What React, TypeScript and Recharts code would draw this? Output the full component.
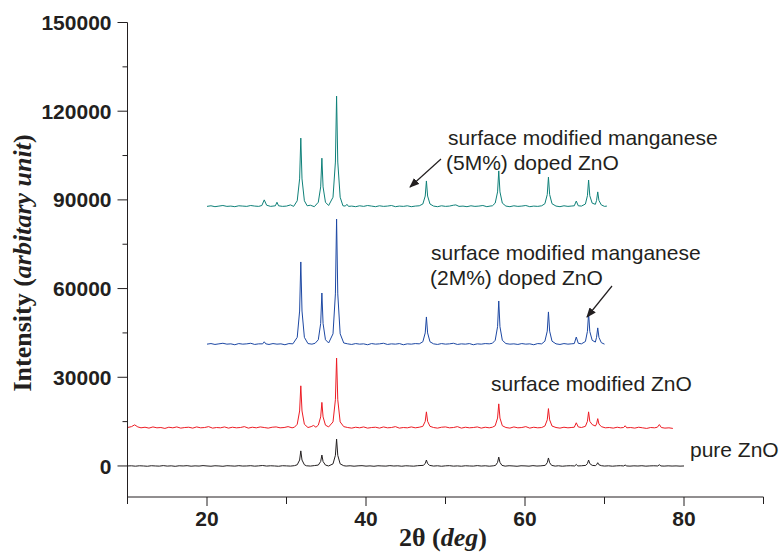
import React from "react";
import { LineChart, Line, XAxis, YAxis } from "recharts";

// 2θ (deg), intensity (a.u.)
const pureZnO: [number, number][] = [
  [10, 0], [10.5, 50], [11, -80], [11.5, 60], [12, 0], [12.5, -100], [13, 80], [13.5, 0], [14, -60], [14.5, 120],
  [15, -50], [15.5, 40], [16, -120], [16.5, 60], [17, 0], [17.5, 100], [18, -80], [18.5, 30], [19, -40], [19.5, 120],
  [20, 0], [20.5, -90], [21, 60], [21.5, 0], [22, -110], [22.5, 80], [23, 20], [23.5, -60], [24, 100], [24.5, -30],
  [25, 0], [25.5, 90], [26, -70], [26.5, 30], [27, 150], [27.5, -40], [28, 60], [28.5, 0], [29, -100], [29.5, 80],
  [30, 20], [30.5, -50], [31, 100],
  [31.35, 400], [31.65, 2000], [31.8, 5100], [31.95, 2000], [32.25, 400],
  [32.5, 60], [33, -40], [33.5, 120],
  [34.0, 300], [34.3, 1500], [34.45, 3700], [34.6, 1500], [34.9, 300],
  [35.3, 0],
  [35.85, 700], [36.15, 3600], [36.3, 9100], [36.45, 3600], [36.75, 700],
  [37.2, 80], [37.5, -30], [38, 60], [38.5, -80], [39, 40], [39.5, 100], [40, -60], [40.5, 30], [41, -100], [41.5, 70],
  [42, 0], [42.5, -50], [43, 110], [43.5, -20], [44, 50], [44.5, -90], [45, 60], [45.5, 0], [46, -70], [46.5, 90],
  [47.2, 200], [47.45, 800], [47.6, 2000], [47.75, 800], [48.0, 200],
  [48.5, -40], [49, 60], [49.5, -100], [50, 40], [50.5, 100], [51, -60], [51.5, 20], [52, -90], [52.5, 70], [53, 0],
  [53.5, -50], [54, 120], [54.5, -30], [55, 60], [55.5, -80], [56, 40],
  [56.3, 200], [56.55, 1200], [56.7, 3000], [56.85, 1200], [57.1, 200],
  [57.5, -60], [58, 80], [58.5, 0], [59, -100], [59.5, 60], [60, 20], [60.5, -70], [61, 110], [61.5, -30], [62, 40],
  [62.55, 200], [62.8, 1100], [62.95, 2700], [63.1, 1100], [63.35, 200],
  [63.8, -50], [64.2, 70], [64.7, -90], [65.2, 30], [65.7, 80],
  [66.25, 0], [66.45, 500], [66.65, 0],
  [67.1, 60],
  [67.65, 200], [67.85, 800], [68.0, 2000], [68.15, 800], [68.45, 200],
  [68.85, 100], [69.0, 400], [69.15, 1100], [69.3, 400], [69.6, 100],
  [70, -40], [70.5, 50], [71, -80], [71.5, 30], [72, 90],
  [72.4, 0], [72.6, 300], [72.8, 0],
  [73.2, -60], [73.7, 40], [74.2, -20], [74.7, 80], [75.2, -70], [75.7, 20], [76.2, 60],
  [76.7, 0], [76.9, 400], [77.1, 0],
  [77.5, -50], [78, 40], [78.5, -30], [79, 20], [79.5, -60], [80, 0],
];

const surfaceZnO: [number, number][] = [
  [10, 13000], [10.5, 13300], [10.9, 13900], [11.3, 13200], [11.7, 12900], [12.2, 13100], [12.7, 12800], [13.2, 13200],
  [13.7, 12900], [14.2, 13000], [14.7, 12700], [15.2, 13100], [15.7, 12900], [16.2, 13200], [16.7, 12800], [17.2, 13000],
  [17.7, 13100], [18.2, 12800], [18.7, 13200], [19.2, 12900], [19.7, 13000], [20.2, 13300], [20.7, 12800], [21.2, 13000],
  [21.7, 12900], [22.2, 13200], [22.7, 12800], [23.2, 13100], [23.7, 12900], [24.2, 13000], [24.7, 13300], [25.2, 12800],
  [25.7, 13100], [26.2, 12900], [26.7, 13200], [27.2, 13000], [27.7, 12800], [28.2, 13100], [28.7, 13200], [29.2, 12900],
  [29.7, 13000], [30.2, 13300], [30.7, 12900], [31.0, 13100],
  [31.35, 14100], [31.65, 18600], [31.8, 27100], [31.95, 18600], [32.25, 14100],
  [32.7, 13000], [33.1, 13300], [33.4, 13700], [33.7, 13100],
  [34.0, 13800], [34.3, 16600], [34.45, 21500], [34.6, 16600], [34.9, 13800],
  [35.3, 13200],
  [35.85, 14900], [36.15, 22400], [36.3, 36500], [36.45, 22400], [36.75, 14900],
  [37.2, 13300], [37.7, 13000], [38.2, 12800], [38.7, 13100], [39.2, 12900], [39.7, 13200], [40.2, 12800], [40.7, 13000],
  [41.2, 13100], [41.7, 12800], [42.2, 13200], [42.7, 12900], [43.2, 13000], [43.7, 13300], [44.2, 12800], [44.7, 13000],
  [45.2, 12900], [45.7, 13200], [46.2, 12900], [46.7, 13100],
  [47.15, 13400], [47.45, 15100], [47.6, 18300], [47.75, 15100], [48.05, 13400],
  [48.5, 13000], [49, 12800], [49.5, 13100], [50, 13200], [50.5, 12900], [51, 13000], [51.5, 13300], [52, 12800],
  [52.5, 13100], [53, 12900], [53.5, 13000], [54, 13200], [54.5, 12800], [55, 13100], [55.5, 12900], [55.9, 13100],
  [56.25, 13600], [56.55, 16200], [56.7, 21000], [56.85, 16200], [57.15, 13600],
  [57.6, 13000], [58.1, 12800], [58.6, 13200], [59.1, 12900], [59.6, 13000], [60.1, 13300], [60.6, 12800], [61.1, 13100],
  [61.6, 12900], [62.1, 13000],
  [62.5, 13500], [62.8, 15600], [62.95, 19400], [63.1, 15600], [63.4, 13500],
  [63.9, 13000], [64.4, 12800], [64.9, 13100], [65.4, 12900], [65.8, 13000],
  [66.2, 13100], [66.45, 14600], [66.7, 13200],
  [67.1, 13000],
  [67.6, 13400], [67.85, 15100], [68.0, 18300], [68.15, 15100], [68.45, 14000],
  [68.85, 13500], [69.0, 14200], [69.15, 16000], [69.3, 14200], [69.6, 13300],
  [70.1, 12900], [70.6, 13000], [71.1, 12800], [71.6, 13100], [72.0, 12900],
  [72.4, 13000], [72.6, 13600], [72.8, 12900],
  [73.3, 13000], [73.8, 12800], [74.3, 13100], [74.8, 12900], [75.3, 12700], [75.8, 13000], [76.3, 12900],
  [76.65, 13100], [76.9, 14000], [77.15, 13000],
  [77.6, 12800], [78.1, 12900], [78.6, 12700],
];

const mn2ZnO: [number, number][] = [
  [20, 41200], [20.5, 41400], [21, 41100], [21.5, 41300], [22, 41500], [22.5, 41200], [23, 41300], [23.5, 41000],
  [24, 41400], [24.5, 41200], [25, 41300], [25.5, 41500], [26, 41100], [26.5, 41300],
  [27.0, 41300], [27.2, 42000], [27.4, 41300],
  [27.8, 41100], [28.3, 41400], [28.8, 41200], [29.3, 41300], [29.8, 41000], [30.3, 41400], [30.8, 41300],
  [31.35, 43500], [31.65, 52400], [31.8, 69000], [31.95, 52400], [32.25, 43500],
  [32.7, 41400], [33.2, 41200], [33.6, 41500],
  [34.0, 42700], [34.3, 48200], [34.45, 58500], [34.6, 48200], [34.9, 42700],
  [35.3, 41600],
  [35.85, 44700], [36.15, 58200], [36.3, 83500], [36.45, 58200], [36.75, 44700],
  [37.2, 41600], [37.7, 41300], [38.2, 41100], [38.7, 41400], [39.2, 41200], [39.7, 41300], [40.2, 41000], [40.7, 41400],
  [41.2, 41200], [41.7, 41300], [42.2, 41500], [42.7, 41100], [43.2, 41300], [43.7, 41200], [44.2, 41400], [44.7, 41000],
  [45.2, 41300], [45.7, 41200], [46.2, 41400], [46.7, 41300],
  [47.15, 42000], [47.45, 45000], [47.6, 50400], [47.75, 45000], [48.05, 42000],
  [48.5, 41300], [49, 41100], [49.5, 41400], [50, 41200], [50.5, 41300], [51, 41500], [51.5, 41100], [52, 41300],
  [52.5, 41200], [53, 41400], [53.5, 41000], [54, 41300], [54.5, 41200], [55, 41400], [55.5, 41300], [55.9, 41500],
  [56.25, 42500], [56.55, 47100], [56.7, 55800], [56.85, 47100], [57.15, 42500],
  [57.6, 41400], [58.1, 41200], [58.6, 41300], [59.1, 41100], [59.6, 41400], [60.1, 41200], [60.6, 41300], [61.1, 41000],
  [61.6, 41400], [62.1, 41300],
  [62.5, 42200], [62.8, 45600], [62.95, 52100], [63.1, 45600], [63.4, 42200],
  [63.9, 41300], [64.4, 41100], [64.9, 41400], [65.4, 41200], [65.8, 41300],
  [66.2, 41400], [66.45, 43600], [66.7, 41500],
  [67.1, 41300],
  [67.6, 42100], [67.85, 45500], [68.0, 51700], [68.15, 45500], [68.45, 42500],
  [68.85, 41900], [69.0, 43500], [69.15, 46700], [69.3, 43500], [69.6, 41700],
  [70.0, 41200],
];

const mn5ZnO: [number, number][] = [
  [20, 87800], [20.5, 88000], [21, 87700], [21.5, 87900], [22, 88100], [22.5, 87800], [23, 87900], [23.5, 87700],
  [24, 88000], [24.5, 87900], [25, 87800], [25.5, 88100], [26, 87900], [26.5, 87800],
  [26.9, 88100], [27.2, 90000], [27.5, 88200],
  [28, 87800], [28.3, 87900],
  [28.6, 88000], [28.8, 89200], [29.0, 88000],
  [29.5, 87800], [30, 87900], [30.5, 88300], [30.9, 87800],
  [31.35, 89700], [31.65, 97100], [31.8, 110900], [31.95, 97100], [32.25, 89700],
  [32.6, 88000], [33, 88200], [33.5, 87700],
  [34.0, 89200], [34.3, 94400], [34.45, 104100], [34.6, 94400], [34.9, 89200],
  [35.3, 88100],
  [35.85, 90900], [36.15, 102800], [36.3, 125100], [36.45, 102800], [36.75, 90900],
  [37.1, 88000],
  [37.4, 87900], [37.6, 88500], [37.8, 87800],
  [38.2, 87900], [38.7, 87700], [39.2, 88000], [39.7, 87800], [40.2, 88100], [40.7, 87900], [41.2, 87700], [41.7, 88000],
  [42.2, 87800], [42.7, 87900], [43.2, 88100], [43.7, 87700], [44.2, 87900], [44.7, 87800], [45.2, 88000], [45.7, 87700],
  [46.2, 87900], [46.7, 88000],
  [47.15, 88600], [47.45, 91300], [47.6, 96400], [47.75, 91300], [48.05, 88600],
  [48.5, 87900], [49, 87700], [49.5, 88000], [50, 87800], [50.5, 87900], [51, 88200], [51.3, 88300], [51.7, 87800],
  [52.2, 87900], [52.7, 87700], [53.2, 88000], [53.7, 87800], [54.2, 87900], [54.7, 88100], [55.2, 87700], [55.6, 87900],
  [55.9, 88000],
  [56.25, 88900], [56.55, 92700], [56.7, 99800], [56.85, 92700], [57.15, 88900],
  [57.6, 87900], [58.1, 87700], [58.6, 88000], [59.1, 87800], [59.6, 87900], [60.1, 88100], [60.6, 87700], [61.1, 87900],
  [61.6, 87800], [62.1, 88000],
  [62.5, 88700], [62.8, 91800], [62.95, 97700], [63.1, 91800], [63.4, 88700],
  [63.9, 87900], [64.4, 87700], [64.9, 88000], [65.4, 87800], [65.8, 87900],
  [66.2, 88000], [66.45, 89600], [66.7, 88000],
  [67.1, 87900],
  [67.6, 88600], [67.85, 91400], [68.0, 96700], [68.15, 91400], [68.45, 88900],
  [68.85, 88500], [69.0, 89800], [69.15, 92700], [69.3, 89800], [69.6, 88300],
  [70.0, 87800], [70.3, 87900],
];

const xTicks = [10, 20, 30, 40, 50, 60, 70, 80, 90];
const xLabeled = [20, 40, 60, 80];
const yTicks = [0, 15000, 30000, 45000, 60000, 75000, 90000, 105000, 120000, 135000, 150000];
const yLabeled = [0, 30000, 60000, 90000, 120000, 150000];

const INK = "#231f20";
const SANS = "'Liberation Sans', Arial, Helvetica, sans-serif";
const SERIF = "'Liberation Serif', 'Times New Roman', Times, serif";

const toRows = (pts: [number, number][]) => pts.map(([x, y]) => ({ x, y }));

// axis positions in the page
const PLOT_LEFT = 127.5;
const PLOT_BOTTOM = 497;

const YTick = (props: any) => {
  const { y, payload } = props;
  const x = PLOT_LEFT;
  const v = payload.value as number;
  const major = yLabeled.includes(v);
  return (
    <g>
      <line x1={x - (major ? 10 : 5)} x2={x} y1={y} y2={y} stroke={INK} strokeWidth={1} />
      {major && (
        <text x={x - 16} y={y} dy="0.36em" textAnchor="end" fontFamily={SANS} fontWeight="bold" fontSize={21} fill={INK}>
          {v}
        </text>
      )}
    </g>
  );
};

const XTick = (props: any) => {
  const { x, payload } = props;
  const y = PLOT_BOTTOM;
  const v = payload.value as number;
  const major = xLabeled.includes(v);
  return (
    <g>
      <line x1={x} x2={x} y1={y} y2={y + (major ? 9 : 7)} stroke={INK} strokeWidth={1} />
      {major && (
        <text x={x} y={y + 29} textAnchor="middle" fontFamily={SANS} fontWeight="bold" fontSize={21} fill={INK}>
          {v}
        </text>
      )}
    </g>
  );
};

export default function App() {
  return (
    <div style={{ position: "absolute", left: 0, top: 0, width: 781, height: 552 }}>
      <LineChart width={781} height={552} margin={{ top: 22.5, right: 17.5, left: 67.5, bottom: 25 }}>
        <XAxis
          type="number"
          dataKey="x"
          domain={[10, 90]}
          ticks={xTicks}
          height={30}
          tickSize={0}
          tickMargin={0}
          tickLine={false}
          axisLine={{ stroke: INK, strokeWidth: 1 }}
          tick={(p: any) => <XTick {...p} />}
          interval={0}
          allowDataOverflow
        />
        <YAxis
          type="number"
          domain={[-10500, 150000]}
          ticks={yTicks}
          width={60}
          tickSize={0}
          tickMargin={0}
          tickLine={false}
          axisLine={{ stroke: INK, strokeWidth: 1 }}
          tick={(p: any) => <YTick {...p} />}
          interval={0}
          allowDataOverflow
        />
        <Line data={toRows(pureZnO)} dataKey="y" type="linear" dot={false} stroke="#231f20" strokeWidth={1} isAnimationActive={false} />
        <Line data={toRows(surfaceZnO)} dataKey="y" type="linear" dot={false} stroke="#ed1c24" strokeWidth={1} isAnimationActive={false} />
        <Line data={toRows(mn2ZnO)} dataKey="y" type="linear" dot={false} stroke="#1d48a3" strokeWidth={1} isAnimationActive={false} />
        <Line data={toRows(mn5ZnO)} dataKey="y" type="linear" dot={false} stroke="#0f8079" strokeWidth={1} isAnimationActive={false} />
      </LineChart>
      <svg
        width={781}
        height={552}
        style={{ position: "absolute", left: 0, top: 0, pointerEvents: "none", overflow: "visible" }}
      >
        <defs>
          <marker id="arrowHead" markerWidth="10" markerHeight="8" refX="9" refY="4" orient="auto" markerUnits="userSpaceOnUse">
            <path d="M0,0 L10,4 L0,8 Z" fill={INK} />
          </marker>
        </defs>
        <text transform="translate(31,263) rotate(-90)" textAnchor="middle" fontFamily={SERIF} fontWeight="bold" fontSize={26} fill={INK}>
          Intensity (<tspan fontStyle="italic">arbitary unit</tspan>)
        </text>
        <text x={443} y={546} textAnchor="middle" fontFamily={SERIF} fontWeight="bold" fontSize={26} fill={INK}>
          2θ (<tspan fontStyle="italic">deg</tspan>)
        </text>
        <g fontFamily={SANS} fontSize={21} fill={INK}>
          <text x={448} y={144.5}>surface modified manganese</text>
          <text x={446} y={169.5}>(5M%) doped ZnO</text>
          <text x={431} y={259.5}>surface modified manganese</text>
          <text x={430} y={285}>(2M%) doped ZnO</text>
          <text x={491} y={390.5}>surface modified ZnO</text>
          <text x={690} y={457}>pure ZnO</text>
        </g>
        <line x1={441} y1={159} x2={410} y2={187} stroke={INK} strokeWidth={1.2} markerEnd="url(#arrowHead)" />
        <line x1={612} y1={286} x2={587} y2={317} stroke={INK} strokeWidth={1.2} markerEnd="url(#arrowHead)" />
      </svg>
    </div>
  );
}
